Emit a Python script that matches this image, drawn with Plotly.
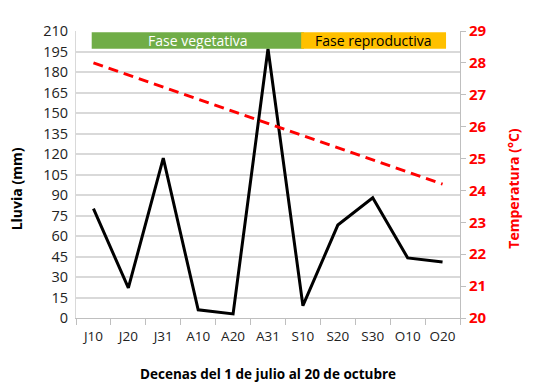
import plotly.graph_objects as go

categories = ["J10", "J20", "J31", "A10", "A20", "A31", "S10", "S20", "S30", "O10", "O20"]
rain_mm = [80, 22, 117, 6, 3, 197, 9, 68, 88, 44, 41]
temp_c = [28.0, 27.62, 27.24, 26.86, 26.48, 26.1, 25.72, 25.34, 24.96, 24.58, 24.2]
left_ticks = list(range(0, 211, 15))
right_ticks = list(range(20, 30))
phases = [("Fase vegetativa", "J10", "S10", "#70AD47", "white"),
          ("Fase reproductiva", "S10", "O20", "#FFC000", "black")]

FONT = "Open Sans"
fig = go.Figure()
fig.add_trace(go.Scatter(x=categories, y=rain_mm, mode="lines",
                         line=dict(color="black", width=3), yaxis="y"))
fig.add_trace(go.Scatter(x=categories, y=temp_c, mode="lines",
                         line=dict(color="#FF0000", width=3, dash="10px,6px"), yaxis="y2"))

idx = {c: i for i, c in enumerate(categories)}
for label, a, b, col, tcol in phases:
    x0 = idx[a] - 0.05
    x1 = idx[b] + (0.03 if b != "O20" else 0.1)
    fig.add_shape(type="rect", xref="x", yref="y", x0=x0, x1=x1, y0=197, y1=209,
                  fillcolor=col, line=dict(width=0), layer="above")
    fig.add_annotation(x=(x0 + x1) / 2, y=203, xref="x", yref="y", text=label,
                       showarrow=False, font=dict(family=FONT, size=14, color=tcol))

# page body has an 8px margin, so the figure is shifted by 8px right/down
fig.update_layout(
    width=522, height=375, showlegend=False,
    margin=dict(l=68, r=70, t=17, b=65),
    paper_bgcolor="white", plot_bgcolor="white",
    font=dict(family=FONT, size=14, color="#222"),
    xaxis=dict(type="category", tickson="boundaries", ticks="outside", ticklen=6,
               tickcolor="#BFBFBF", showline=True, linecolor="#BFBFBF", linewidth=1,
               showgrid=False, range=[-0.5, 10.5], ticklabelstandoff=6, tickangle=0,
               tickfont=dict(size=13.5, color="#222")),
    yaxis=dict(range=[0, 210], tickvals=left_ticks, showgrid=True, gridcolor="#D9D9D9",
               gridwidth=1.5, showline=True, linecolor="#D9D9D9", zeroline=False,
               ticks="", ticklabelstandoff=4, tickfont=dict(size=14.5, color="#222")),
    yaxis2=dict(range=[20, 29], tickvals=right_ticks, overlaying="y", side="right",
                showgrid=False, showline=True, linecolor="#BFBFBF", ticks="outside",
                ticklen=5, tickcolor="#BFBFBF", zeroline=False,
                tickfont=dict(size=15, color="#FF0000", family=FONT, weight="bold")),
)
fig.add_annotation(xref="paper", yref="paper", x=-0.185, y=0.45, text="<b>Lluvia (mm)</b>",
                   textangle=-90, showarrow=False, font=dict(family=FONT, size=14, color="black"))
fig.add_annotation(xref="paper", yref="paper", x=1.17, y=0.45, text="<b>Temperatura (°C)</b>",
                   textangle=-90, showarrow=False, font=dict(family=FONT, size=14, color="#FF0000"))
fig.add_annotation(xref="paper", yref="paper", x=0.5, y=-0.195, yanchor="middle",
                   text="<b>Decenas del 1 de julio al 20 de octubre</b>",
                   showarrow=False, font=dict(family=FONT, size=13.5, color="black"))

fig.write_html("out.html")
